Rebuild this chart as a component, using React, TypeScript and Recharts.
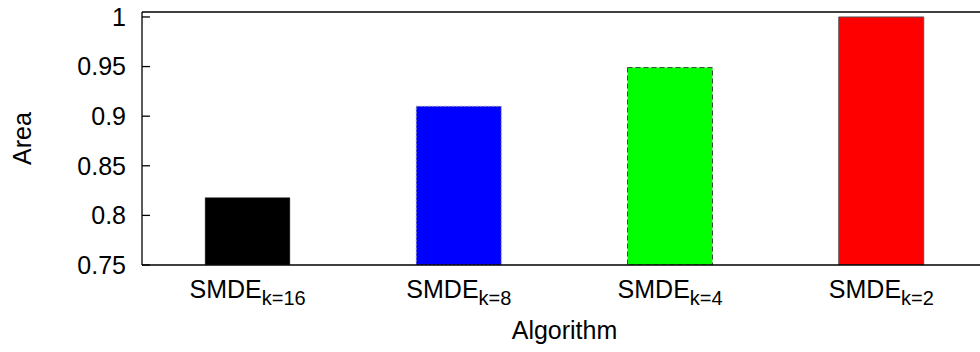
import { BarChart, Bar, XAxis, YAxis, Cell, Label } from "recharts";

// data
const algorithm = "SMDE";
const subscripts = ["k=16", "k=8", "k=4", "k=2"];
const areaValues = [0.818, 0.91, 0.949, 1.0];
const yTicks = [0.75, 0.8, 0.85, 0.9, 0.95, 1];

const barFills = ["#000000", "#0000ff", "#00ff00", "#ff0000"];
const barStrokes = ["#888888", "#999999", "#444444", "#555555"];
const barDashes = ["1 1", "2 2", "5 3", undefined];

const chartData = subscripts.map((k, i) => ({ k, area: areaValues[i] }));

const FONT = "'Liberation Sans', Arial, Helvetica, sans-serif";

const AlgoTick = (props: any) => {
  const { x, payload } = props;
  return (
    <text x={x} y={298} textAnchor="middle" fontFamily={FONT} fontSize={25} fill="#000">
      <tspan>{algorithm}</tspan>
      <tspan dy={7} fontSize={20}>
        {payload.value}
      </tspan>
    </text>
  );
};

export default function App() {
  return (
    <div
      style={{
        position: "absolute",
        left: 0,
        top: 0,
        width: 980,
        height: 352,
        overflow: "hidden",
        background: "#fff",
      }}
    >
      <BarChart
        width={995}
        height={352}
        data={chartData}
        margin={{ top: 0, right: 0, bottom: 0, left: 0 }}
        barSize={85}
      >
        <XAxis
          xAxisId="top"
          orientation="top"
          dataKey="k"
          height={12}
          tick={false}
          tickSize={-8}
          stroke="#000"
          strokeWidth={1.3}
        />
        <XAxis
          dataKey="k"
          height={87}
          tickLine={false}
          tick={<AlgoTick />}
          stroke="#000"
          strokeWidth={1.3}
        >
          <Label
            content={(p: any) => (
              <text
                x={p.viewBox.x + p.viewBox.width / 2}
                y={339}
                textAnchor="middle"
                fontFamily={FONT}
                fontSize={25}
                fill="#000"
              >
                Algorithm
              </text>
            )}
          />
        </XAxis>
        <YAxis
          width={142}
          domain={[0.75, 1.005]}
          ticks={yTicks}
          allowDataOverflow
          tickSize={-8}
          tickMargin={24}
          tick={{ fill: "#000", fontSize: 25, fontFamily: FONT }}
          stroke="#000"
          strokeWidth={1.3}
        >
          <Label
            content={(p: any) => {
              const cx = 22;
              const cy = p.viewBox.y + p.viewBox.height / 2;
              return (
                <text
                  x={cx}
                  y={cy}
                  transform={`rotate(-90 ${cx} ${cy})`}
                  textAnchor="middle"
                  dominantBaseline="central"
                  fontFamily={FONT}
                  fontSize={25}
                  fill="#000"
                >
                  Area
                </text>
              );
            }}
          />
        </YAxis>
        <YAxis
          yAxisId="right"
          orientation="right"
          width={8}
          domain={[0.75, 1.005]}
          ticks={yTicks}
          allowDataOverflow
          tick={false}
          tickSize={-8}
          stroke="#000"
          strokeWidth={1.3}
        />
        <Bar dataKey="area" isAnimationActive={false}>
          {chartData.map((d, i) => (
            <Cell
              key={d.k}
              fill={barFills[i]}
              stroke={barStrokes[i]}
              strokeWidth={1}
              strokeDasharray={barDashes[i]}
            />
          ))}
        </Bar>
      </BarChart>
    </div>
  );
}
